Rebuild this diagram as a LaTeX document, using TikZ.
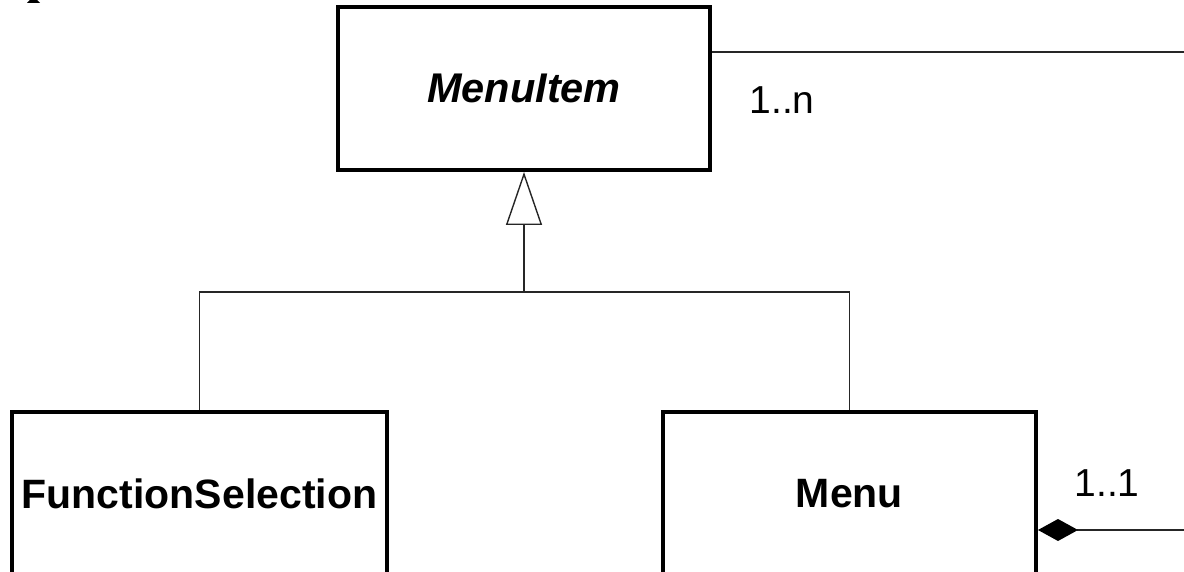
\documentclass[tikz,border=0pt]{standalone}
\usepackage{fontspec}
\setmainfont{Liberation Sans}
\usetikzlibrary{arrows.meta}
\begin{document}
\begin{tikzpicture}[x=1pt, y=-1pt,
  classbox/.style={draw=black, line width=4pt, fill=white, rectangle,
    inner sep=0pt, minimum width=#1, minimum height=163pt,
    font=\fontsize{41}{48}\selectfont\bfseries},
  classbox/.default=373pt,
  link/.style={draw=black!85, line width=1.4pt},
  mult/.style={font=\fontsize{39}{46}\selectfont, inner sep=0pt}]
  \useasboundingbox (0,0) rectangle (1184,572);
  \clip (0,0) rectangle (1184,572);

  % fragment of a glyph cut off at the top-left edge
  \fill[black] (27,3) -- (40,3) -- (37,0) -- (30,0) -- cycle;

  % classes
  \node[classbox=372pt, font=\fontsize{41.5}{48}\selectfont\bfseries\itshape]
    (mi) at (524,88.5) {MenuItem};
  \node[classbox=375pt] (fs) at (199.5,493.5) {FunctionSelection};
  \node[classbox=373pt] (menu) at (849.5,493.5) {Menu};

  % generalization: FunctionSelection and Menu inherit from MenuItem
  \coordinate (join) at (524,292);
  \draw[link] (fs.north) |- (join) -| (menu.north);
  \draw[link, -{Triangle[open, length=53pt, width=36pt]}] (join) -- (mi.south);

  % association leaving MenuItem
  \coordinate (assocEnd) at (1184,52);
  \draw[link] ([yshift=36.5pt]mi.east) -- (assocEnd);
  \node[mult] (mn) at (782,100) {1..n};

  % composition owned by Menu
  \coordinate (compEnd) at (1184,530);
  \draw[link, {Diamond[length=40pt, width=22pt, color=black, fill=black]}-]
    ([yshift=-36.5pt]menu.east) -- (compEnd);
  \node[mult] (m1) at (1107,483) {1..1};
\end{tikzpicture}
\end{document}
